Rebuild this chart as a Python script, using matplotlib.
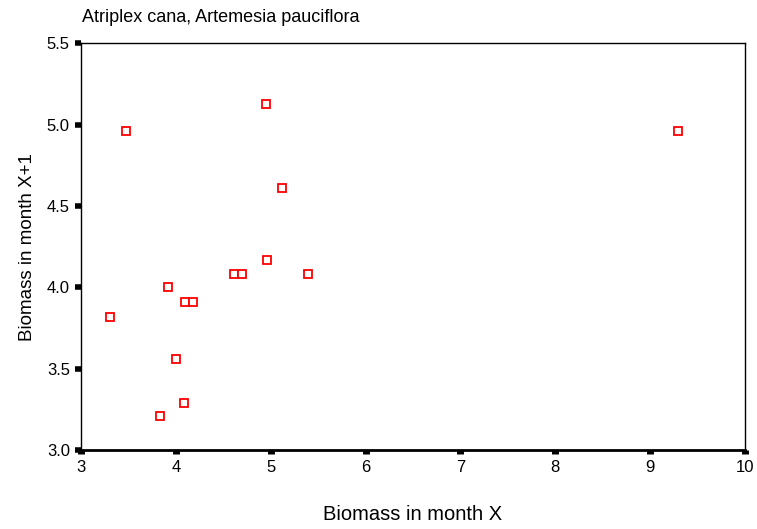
import numpy as np
from matplotlib import pyplot as plt

# biomass values
biomass_x = [3.47, 4.95, 9.29, 5.12, 4.96, 4.61, 4.70, 5.39, 3.92, 4.10, 4.18, 3.31, 4.00, 4.09, 3.83]
biomass_x1 = [4.96, 5.13, 4.96, 4.61, 4.17, 4.08, 4.08, 4.08, 4.00, 3.91, 3.91, 3.82, 3.56, 3.29, 3.21]

xticks = [3, 4, 5, 6, 7, 8, 9, 10]
yticks = [3.0, 3.5, 4.0, 4.5, 5.0, 5.5]

plt.rcParams['font.family'] = ['Liberation Sans', 'DejaVu Sans']

fig = plt.figure(figsize=(7.57, 5.29), dpi=100)
ax = fig.add_axes([0.107, 0.149, 0.877, 0.769])

ax.plot(biomass_x, biomass_x1, linestyle='none', marker='s', markersize=5.5,
        markerfacecolor='white', markeredgecolor='#ff0000', markeredgewidth=1.3)

ax.set_xlim(3, 10)
ax.set_ylim(3.0, 5.5)
ax.set_xticks(xticks)
ax.set_xticklabels([str(t) for t in xticks])
ax.set_yticks(yticks)
ax.set_yticklabels(['%.1f' % t for t in yticks])

ax.tick_params(axis='x', direction='out', length=3, width=5, pad=4, labelsize=12)
ax.tick_params(axis='y', direction='out', length=4, width=4, pad=4, labelsize=12)

for side in ['top', 'right', 'left']:
    ax.spines[side].set_linewidth(1.0)
ax.spines['bottom'].set_linewidth(2.0)

ax.set_xlabel('Biomass in month X', fontsize=14.5, labelpad=22)
ax.set_ylabel('Biomass in month X+1', fontsize=13.5, labelpad=8)
fig.text(0.108, 0.966, 'Atriplex cana, Artemesia pauciflora', fontsize=13,
         ha='left', va='center')

fig.savefig('out.png', dpi=100)
